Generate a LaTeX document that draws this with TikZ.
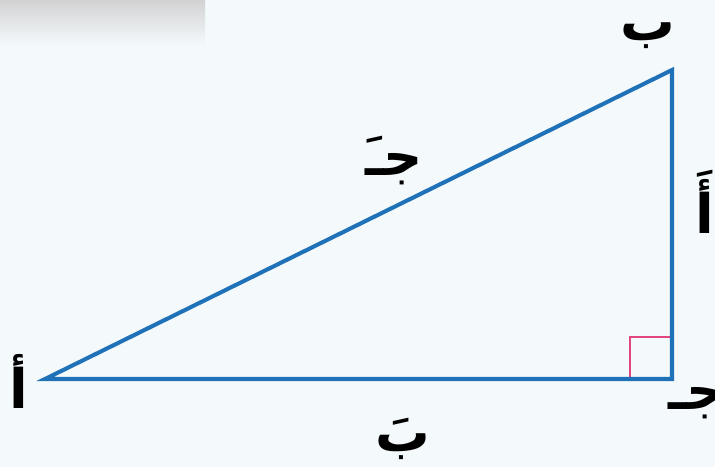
\documentclass[tikz,border=0pt]{standalone}
\usepackage{fontspec}
\newfontfamily\arabicfont[Script=Arabic]{DejaVu Sans}
\TeXXeTstate=1
\usetikzlibrary{positioning,calc}
\definecolor{sideblue}{HTML}{1F72B8}
\definecolor{rightpink}{HTML}{E2467F}
\definecolor{paper}{HTML}{F4F9FC}
\tikzset{
  side/.style={draw=sideblue, line width=2.3pt, line join=miter},
  rightmark/.style={draw=rightpink, line width=1.3pt},
  letter/.style={inner sep=0pt, font=\arabicfont\bfseries\fontsize{31}{36}\selectfont}
}
\newcommand{\arlabel}[1]{\beginR #1\endR}

\begin{document}
\begin{tikzpicture}

  % page and faded strip at top left
  \fill[paper] (0,0) rectangle (14.3,9.34);
  \useasboundingbox (0,0) rectangle (14.3,9.34);
  \shade[top color=gray!35, bottom color=paper] (0,8.44) rectangle (4.1,9.34);

  % corners
  \coordinate (A) at (0.9,1.76);
  \coordinate (B) at (13.44,7.94);
  \coordinate (C) at (13.44,1.76);

  % right angle at C
  \draw[rightmark] ($(C)+(-0.84,0)$) -- ++(0,0.84) -- ++(0.84,0);

  \draw[side] (A) -- (B) -- (C) -- cycle;

  % vertex names
  \node[letter] (nA) at (0.38,1.72) {\arlabel{أ}};
  \node[letter] (nB) at (12.96,8.62) {\arlabel{ب}};
  \node[letter] (nC) at (13.94,1.28) {\arlabel{جـ}};

  % side names
  \node[letter] (sc) at (7.88,6.12) {\arlabel{جـَ}};
  \node[letter] (sa) at (14.1,5.3) {\arlabel{أَ}};
  \node[letter] (sb) at (8.06,0.56) {\arlabel{بَ}};

\end{tikzpicture}
\end{document}
